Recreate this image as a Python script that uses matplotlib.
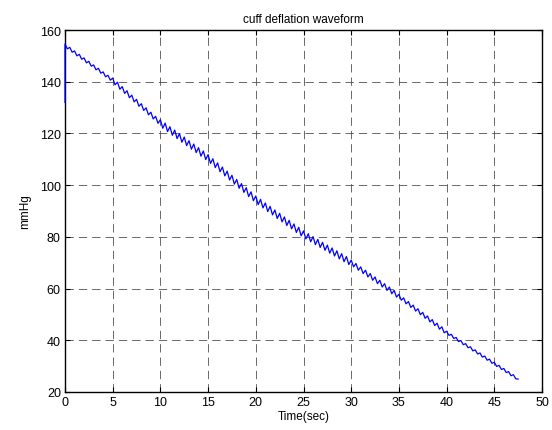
import numpy as np
import matplotlib
matplotlib.use("Agg")
import matplotlib.pyplot as plt

# ---- data ----
sample_dt = 0.25  # seconds between samples
inflation_tail = [132.0]  # first sample at t=0 (end of inflation)
pressure = [
    154.6, 152.7, 153.3, 151.4,
    151.9, 150.0, 150.6, 148.7,
    149.2, 147.3, 147.9, 146.0,
    146.5, 144.6, 145.2, 143.3,
    143.8, 141.9, 142.5, 140.6,
    141.4, 138.8, 139.8, 137.1,
    138.1, 135.5, 136.5, 133.8,
    134.8, 132.2, 133.2, 130.5,
    131.5, 128.9, 129.9, 127.2,
    128.2, 125.6, 126.6, 123.9,
    125.3, 122.0, 124.0, 120.7,
    122.6, 119.3, 121.3, 118.0,
    119.9, 116.6, 118.6, 115.3,
    117.2, 113.9, 115.9, 112.6,
    114.5, 111.2, 113.2, 109.9,
    111.8, 108.4, 110.2, 106.8,
    108.6, 105.2, 107.0, 103.6,
    105.4, 102.0, 103.8, 100.4,
    102.2, 98.8, 100.6, 97.2,
    99.0, 95.6, 97.4, 94.0,
    95.8, 92.5, 94.5, 91.2,
    93.1, 89.8, 91.8, 88.5,
    90.4, 87.1, 89.1, 85.8,
    87.7, 84.4, 86.4, 83.1,
    85.0, 81.7, 83.7, 80.4,
    82.3, 79.2, 81.2, 78.1,
    80.1, 77.0, 79.0, 75.9,
    77.9, 74.8, 76.8, 73.7,
    75.7, 72.6, 74.6, 71.5,
    73.5, 70.4, 72.4, 69.3,
    71.0, 68.4, 69.7, 67.1,
    68.4, 65.8, 67.1, 64.5,
    65.8, 63.2, 64.5, 61.9,
    63.2, 60.6, 61.9, 59.3,
    60.6, 58.0, 59.3, 56.7,
    57.8, 55.5, 56.4, 54.1,
    55.0, 52.7, 53.6, 51.3,
    52.2, 49.9, 50.8, 48.5,
    49.4, 47.1, 48.0, 45.7,
    46.6, 44.3, 45.2, 42.9,
    43.5, 41.9, 42.3, 40.7,
    41.1, 39.5, 39.9, 38.3,
    38.7, 37.1, 37.5, 35.9,
    36.3, 34.7, 35.1, 33.5,
    33.9, 32.3, 32.7, 31.1,
    31.5, 29.9, 30.3, 28.7,
    29.1, 27.5, 27.9, 26.3,
    26.7, 25.1, 25.0,
]
x_ticks = [0, 5, 10, 15, 20, 25, 30, 35, 40, 45, 50]
y_ticks = [20, 40, 60, 80, 100, 120, 140, 160]
title = "cuff deflation waveform"
xlabel = "Time(sec)"
ylabel = "mmHg"

times = np.concatenate([[0.0], np.arange(len(pressure)) * sample_dt])
values = np.concatenate([inflation_tail, pressure])

plt.rcParams['font.family'] = ['Liberation Sans', 'DejaVu Sans']
fig = plt.figure(figsize=(5.52, 4.31), dpi=100)
ax = fig.add_axes([65/552, 38/431, 477/552, 362/431])

ax.plot(times, values, color='#0000ff', linewidth=0.9, zorder=3, clip_on=False)

ax.set_xlim(0, 50)
ax.set_ylim(20, 160)
ax.set_xticks(x_ticks)
ax.set_yticks(y_ticks)
ax.tick_params(direction='in', top=True, right=True, length=3.5, width=0.8,
               labelsize=9, colors='black', pad=3)
for sp in ax.spines.values():
    sp.set_linewidth(1.0)
    sp.set_color('black')
    sp.set_zorder(2)
ax.grid(True, color='#505050', linestyle=(0, (10, 6)), linewidth=0.6)
ax.set_axisbelow(True)

ax.set_title(title, fontsize=8.5, pad=6)
ax.set_xlabel(xlabel, fontsize=8.5, labelpad=1)
ax.set_ylabel(ylabel, fontsize=8.5, labelpad=6)

fig.savefig("out.png", dpi=100, facecolor='white')
